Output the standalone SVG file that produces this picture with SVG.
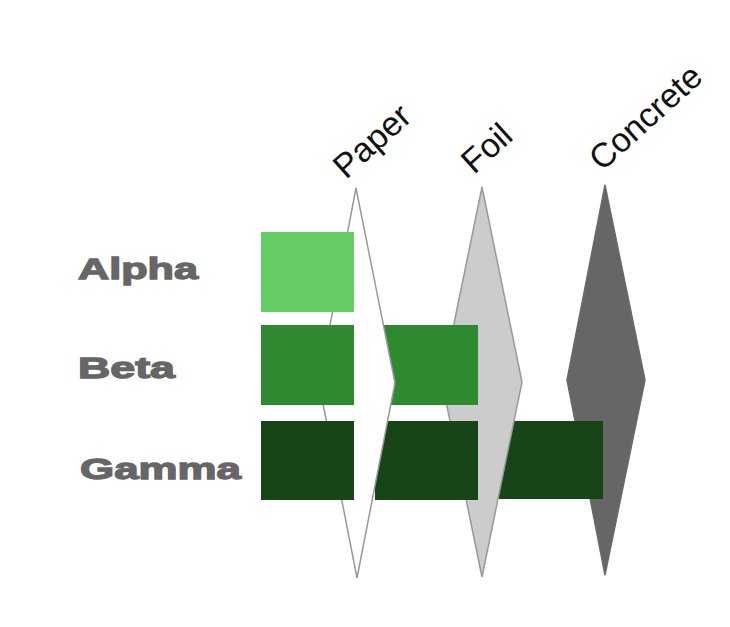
<svg xmlns="http://www.w3.org/2000/svg" width="730" height="627" viewBox="0 0 730 627">
<style>
.row{font-family:"Liberation Sans",Arial,sans-serif;font-weight:bold;font-size:30px;fill:#666;stroke:#666;stroke-width:1.3px}
.mat{font-family:"Liberation Sans",Arial,sans-serif;font-size:34px;fill:#111}
.dia{stroke-width:1.5px;stroke-linejoin:miter}
.a{fill:#66cc66}
.b{fill:#2e8a2f}
.g{fill:#174517}
</style>
<rect width="730" height="627" fill="#ffffff"/>
<g id="label-alpha"><text class="row" x="78" y="279" textLength="120" lengthAdjust="spacingAndGlyphs">Alpha</text></g>
<g id="label-beta"><text class="row" x="78" y="378" textLength="97" lengthAdjust="spacingAndGlyphs">Beta</text></g>
<g id="label-gamma"><text class="row" x="80" y="479" textLength="161" lengthAdjust="spacingAndGlyphs">Gamma</text></g>
<g id="concrete">
<polygon class="dia" points="605,185 645,380 605,575 567,380" fill="#666666" stroke="#6a6a6a"/>
<text class="mat" transform="translate(602,172) rotate(-42)">Concrete</text>
</g>
<g id="gamma-3"><rect class="g" x="490" y="421" width="113" height="78"/></g>
<g id="foil">
<polygon class="dia" points="482,187 522,382 482,577 442,382" fill="#cccccc" stroke="#999999"/>
<text class="mat" transform="translate(474,175) rotate(-42)">Foil</text>
</g>
<g id="beta-2"><rect class="b" x="375" y="325" width="103" height="80"/></g>
<g id="gamma-2"><rect class="g" x="375" y="421" width="103" height="79"/></g>
<g id="paper">
<polygon class="dia" points="356,188 395,383 357,578 319,383" fill="#ffffff" stroke="#999999"/>
<text class="mat" transform="translate(346,180) rotate(-42)">Paper</text>
</g>
<g id="alpha-1"><rect class="a" x="261" y="232" width="93" height="80"/></g>
<g id="beta-1"><rect class="b" x="261" y="325" width="93" height="80"/></g>
<g id="gamma-1"><rect class="g" x="261" y="421" width="93" height="79"/></g>
</svg>
